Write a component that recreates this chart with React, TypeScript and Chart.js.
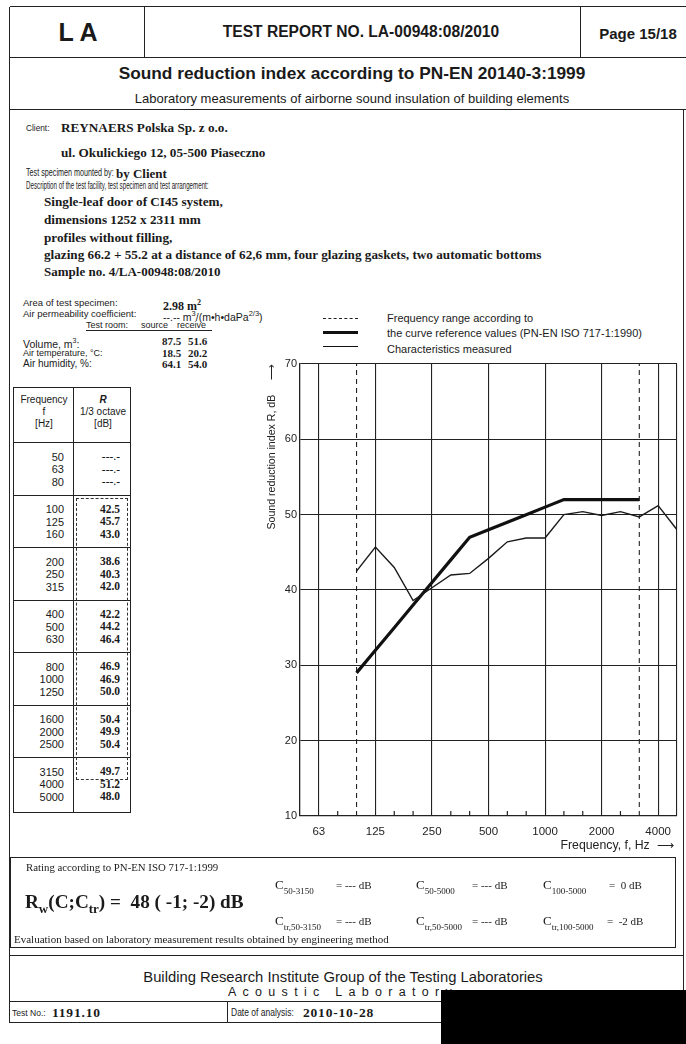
import React, { useEffect, useRef } from "react";
import { Chart, registerables } from "chart.js";

Chart.register(...registerables);

// ---------- data ----------
const bands = ["50","63","80","100","125","160","200","250","315","400","500","630","800","1000","1250","1600","2000","2500","3150","4000","5000"];
const tableR = ["---.-","---.-","---.-","42.5","45.7","43.0","38.6","40.3","42.0","42.2","44.2","46.4","46.9","46.9","50.0","50.4","49.9","50.4","49.7","51.2","48.0"];
const measuredBands = ["100","125","160","200","250","315","400","500","630","800","1000","1250","1600","2000","2500","3150","4000","5000"];
const measuredR = [42.5,45.7,43.0,38.6,40.3,42.0,42.2,44.2,46.4,46.9,46.9,50.0,50.4,49.9,50.4,49.7,51.2,48.0];
const referenceBands = ["100","125","160","200","250","315","400","500","630","800","1000","1250","1600","2000","2500","3150"];
const referenceR = [29,32,35,38,41,44,47,48,49,50,51,52,52,52,52,52];
const rangeBands = ["100","3150"];
const rangeY = [10,70];
const octaveLabels = ["63","125","250","500","1000","2000","4000"];
const minorBands = ["80","160","200","315","400","630","800","1250","1600","2500"];
const yTicks = [10,20,30,40,50,60,70];

const idx = (b: string) => bands.indexOf(b);

const SANS = '"Liberation Sans", Arial, sans-serif';
const SERIF = '"Liberation Serif", "Times New Roman", serif';
const INK = "#1a1a1a";

type TP = { x: number; y: number; s?: number; b?: boolean; serif?: boolean; i?: boolean; anchor?: "start" | "middle" | "end"; sx?: number; children?: any; style?: any };
const T = ({ x, y, s = 10, b = false, serif = false, i = false, anchor = "start", sx = 1, children, style = {} }: TP) => {
  const tr: string[] = [];
  if (anchor === "middle") tr.push("translateX(-50%)");
  if (anchor === "end") tr.push("translateX(-100%)");
  if (sx !== 1) tr.push(`scaleX(${sx})`);
  return (
    <div
      style={{
        position: "absolute",
        left: x,
        top: y - s / 2,
        fontSize: s,
        lineHeight: `${s}px`,
        fontFamily: serif ? SERIF : SANS,
        fontWeight: b ? 700 : 400,
        fontStyle: i ? "italic" : "normal",
        whiteSpace: "nowrap",
        color: INK,
        transform: tr.length ? tr.join(" ") : undefined,
        transformOrigin: "0 50%",
        ...style,
      }}
    >
      {children}
    </div>
  );
};

const H = ({ x1, x2, y, w = 1.2, dash = false, c = "#222" }: any) => (
  <div style={{ position: "absolute", left: x1, top: y - w / 2, width: x2 - x1, height: 0, borderTop: `${w}px ${dash ? "dashed" : "solid"} ${c}` }} />
);
const V = ({ x, y1, y2, w = 1.2, dash = false, c = "#222" }: any) => (
  <div style={{ position: "absolute", left: x - w / 2, top: y1, height: y2 - y1, width: 0, borderLeft: `${w}px ${dash ? "dashed" : "solid"} ${c}` }} />
);

const Sub = ({ children, s = 9 }: any) => (
  <span style={{ fontSize: s, position: "relative", top: 5 }}>{children}</span>
);

const minorTickPlugin = {
  id: "minorTicks",
  afterDatasetsDraw(chart: any) {
    const { ctx, chartArea, scales } = chart;
    const x = scales.x;
    ctx.save();
    ctx.strokeStyle = "#222";
    ctx.lineWidth = 1.2;
    minorBands.forEach((b) => {
      const px = x.getPixelForValue(idx(b));
      ctx.beginPath();
      ctx.moveTo(px, chartArea.bottom);
      ctx.lineTo(px, chartArea.bottom - 5);
      ctx.stroke();
    });
    ctx.restore();
  },
};

function SoundChart() {
  const ref = useRef<HTMLCanvasElement | null>(null);
  useEffect(() => {
    if (!ref.current) return;
    const chart = new Chart(ref.current, {
      type: "line",
      data: {
        datasets: [
          {
            label: "Characteristics measured",
            data: measuredBands.map((b, i) => ({ x: idx(b), y: measuredR[i] })),
            borderColor: "#1a1a1a",
            borderWidth: 1.4,
            pointRadius: 0,
            tension: 0,
          },
          {
            label: "the curve reference values (PN-EN ISO 717-1:1990)",
            data: referenceBands.map((b, i) => ({ x: idx(b), y: referenceR[i] })),
            borderColor: "#111",
            borderWidth: 3.2,
            pointRadius: 0,
            tension: 0,
          },
          ...rangeBands.map((b) => ({
            label: "Frequency range according to",
            data: rangeY.map((y) => ({ x: idx(b), y })),
            borderColor: "#222",
            borderWidth: 1.1,
            borderDash: [5, 4],
            pointRadius: 0,
          })),
        ],
      } as any,
      options: {
        responsive: false,
        animation: false,
        layout: { padding: { left: 0, top: 14, right: 8, bottom: 2 } },
        plugins: { legend: { display: false }, tooltip: { enabled: false } },
        scales: {
          x: {
            type: "linear",
            min: 0,
            max: bands.length - 1,
            afterBuildTicks: (s: any) => {
              s.ticks = bands.map((_, i) => ({ value: i }));
            },
            afterFit: (s: any) => {
              s.height = 44;
            },
            ticks: {
              autoSkip: false,
              maxRotation: 0,
              padding: 9,
              color: "#222",
              font: { family: SANS, size: 11.5 },
              callback: (v: any) => (octaveLabels.includes(bands[v]) ? bands[v] : ""),
            },
            grid: {
              drawTicks: false,
              lineWidth: 1.1,
              color: (ctx: any) => {
                const v = ctx.tick ? ctx.tick.value : -1;
                return octaveLabels.includes(bands[v]) || v === bands.length - 1 ? "#222" : "rgba(0,0,0,0)";
              },
            },
            border: { color: "#222", width: 1.3 },
            title: {
              display: true,
              text: "Frequency, f, Hz  \u27F6 ",
              align: "end",
              color: "#222",
              padding: { top: 0, bottom: 7.4 },
              font: { family: SANS, size: 12.3 },
            },
          },
          y: {
            min: 10,
            max: 70,
            afterBuildTicks: (s: any) => {
              s.ticks = yTicks.map((v) => ({ value: v }));
            },
            afterFit: (s: any) => {
              s.width = 42;
            },
            ticks: { padding: 3, color: "#222", font: { family: SANS, size: 11 } },
            grid: { drawTicks: false, color: "#222", lineWidth: 1.1 },
            border: { color: "#222", width: 1.3 },
            title: {
              display: true,
              text: "Sound reduction index R, dB     \u27F6",
              align: "end",
              color: "#222",
              padding: { top: 7.7, bottom: 0 },
              font: { family: SANS, size: 10.6 },
            },
          },
        },
      } as any,
      plugins: [minorTickPlugin],
    });
    return () => chart.destroy();
  }, []);
  return (
    <canvas
      ref={ref}
      width={428}
      height={512}
      style={{ position: "absolute", left: 258, top: 350, width: 428, height: 512 }}
    />
  );
}

export default function App() {
  const groupTop = 443;
  const groupH = 52.5;
  return (
    <div style={{ position: "absolute", left: 0, top: 0, width: 686, height: 1044, background: "#fff", overflow: "hidden", color: INK }}>
      {/* page frame */}
      <H x1={10} x2={686} y={7} />
      <V x={10} y1={7} y2={1023} />
      <V x={684} y1={110} y2={1023} />
      <V x={145} y1={7} y2={58} />
      <V x={581} y1={7} y2={58} />
      <H x1={10} x2={686} y={58} />
      <H x1={10} x2={686} y={110} />

      {/* header */}
      <T x={78} y={32} s={25} b anchor="middle">L A</T>
      <T x={361} y={32} s={15.6} b anchor="middle">TEST REPORT NO. LA-00948:08/2010</T>
      <T x={638} y={33} s={15} b anchor="middle">Page 15/18</T>
      <T x={352} y={74} s={17.3} b anchor="middle">Sound reduction index according to PN-EN 20140-3:1999</T>
      <T x={352} y={98} s={13} anchor="middle">Laboratory measurements of airborne sound insulation of building elements</T>

      {/* client */}
      <T x={26} y={128} s={9.5} sx={0.87}>Client:</T>
      <T x={61} y={128} s={13.2} b serif>REYNAERS Polska Sp. z o.o.</T>
      <T x={61} y={153} s={13.2} b serif>ul. Okulickiego 12, 05-500 Piaseczno</T>
      <T x={26} y={173} s={10} sx={0.72}>Test specimen mounted by:</T>
      <T x={116} y={173} s={13} b serif>by Client</T>
      <T x={26} y={186} s={10} sx={0.62}>Description of the test facility, test specimen and test arrangement:</T>
      <T x={44} y={202} s={13.2} b serif>Single-leaf door of CI45 system,</T>
      <T x={44} y={220} s={13.2} b serif>dimensions 1252 x 2311 mm</T>
      <T x={44} y={238} s={13.2} b serif>profiles without filling,</T>
      <T x={44} y={255} s={13.2} b serif>glazing 66.2 + 55.2 at a distance of 62,6 mm, four glazing gaskets, two automatic bottoms</T>
      <T x={44} y={271} s={13} b serif>Sample no. 4/LA-00948:08/2010</T>

      {/* specimen data */}
      <T x={23} y={303} s={9.5}>Area of test specimen:</T>
      <T x={163} y={303} s={12} b serif>2.98 m<sup style={{ fontSize: 8 }}>2</sup></T>
      <T x={23} y={314} s={9.5}>Air permeability coefficient:</T>
      <T x={163} y={314} s={10.5}>--.-- m<sup style={{ fontSize: 7.5 }}>3</sup>/(m•h•daPa<sup style={{ fontSize: 7.5 }}>2/3</sup>)</T>
      <T x={86} y={325} s={9}>Test room:</T>
      <T x={141} y={325} s={9}>source</T>
      <T x={177} y={325} s={9}>receive</T>
      <H x1={86} x2={212} y={330} w={0.9} />
      <T x={23} y={341} s={10.5}>Volume, m<sup style={{ fontSize: 7 }}>3</sup>:</T>
      <T x={162} y={341} s={11} b serif>87.5</T>
      <T x={188} y={341} s={11} b serif>51.6</T>
      <T x={23} y={353} s={9}>Air temperature, °C:</T>
      <T x={162} y={353} s={11} b serif>18.5</T>
      <T x={188} y={353} s={11} b serif>20.2</T>
      <T x={23} y={364} s={10}>Air humidity, %:</T>
      <T x={162} y={364} s={11} b serif>64.1</T>
      <T x={188} y={364} s={11} b serif>54.0</T>

      {/* table */}
      <div style={{ position: "absolute", left: 13, top: 387, width: 118, height: 426, border: "1.2px solid #222", boxSizing: "border-box" }} />
      <V x={74} y1={387} y2={813} />
      <T x={44} y={400} s={10} anchor="middle">Frequency</T>
      <T x={44} y={412} s={10} anchor="middle">f</T>
      <T x={44} y={424} s={10} anchor="middle">[Hz]</T>
      <T x={103} y={400} s={10} b i anchor="middle">R</T>
      <T x={103} y={412} s={10} anchor="middle">1/3 octave</T>
      <T x={103} y={424} s={10} anchor="middle">[dB]</T>
      {[0, 1, 2, 3, 4, 5, 6].map((g) => (
        <H key={"g" + g} x1={13} x2={131} y={groupTop + g * groupH} />
      ))}
      <div style={{ position: "absolute", left: 76, top: 498, width: 52, height: 282, border: "1px dashed #333", boxSizing: "border-box" }} />
      {bands.map((b, i) => {
        const g = Math.floor(i / 3);
        const r = i % 3;
        const y = groupTop + g * groupH + 14 + r * 12.6;
        return (
          <React.Fragment key={b}>
            <T x={64} y={y} s={11} anchor="end">{b}</T>
            <T x={120} y={y} s={11.5} b={i >= 3} serif anchor="end">{tableR[i]}</T>
          </React.Fragment>
        );
      })}

      {/* legend */}
      <H x1={323} x2={358} y={319} w={1.3} dash />
      <H x1={323} x2={358} y={333} w={3.5} c="#111" />
      <H x1={323} x2={358} y={347} w={1.6} c="#111" />
      <T x={387} y={318} s={11}>Frequency range according to</T>
      <T x={387} y={333} s={11}>the curve reference values (PN-EN ISO 717-1:1990)</T>
      <T x={387} y={349} s={11}>Characteristics measured</T>

      <SoundChart />

      {/* rating box */}
      <div style={{ position: "absolute", left: 10, top: 857, width: 666, height: 91, border: "1.2px solid #222", boxSizing: "border-box" }} />
      <H x1={10} x2={684} y={956} w={1.5} />
      <T x={26} y={867} s={10.8} serif>Rating according to PN-EN ISO 717-1:1999</T>
      <T x={25} y={902} s={19.2} b serif>
        R<span style={{ fontSize: 13, position: "relative", top: 5 }}>w</span>(C;C<span style={{ fontSize: 13, position: "relative", top: 5 }}>tr</span>) =&nbsp; 48 ( -1; -2) dB
      </T>
      <T x={275} y={884} s={13} serif>C<Sub>50-3150</Sub></T>
      <T x={336} y={885} s={11} serif>= --- dB</T>
      <T x={416} y={884} s={13} serif>C<Sub>50-5000</Sub></T>
      <T x={472} y={885} s={11} serif>= --- dB</T>
      <T x={543} y={884} s={13} serif>C<Sub>100-5000</Sub></T>
      <T x={609} y={885} s={11} serif>=&nbsp; 0 dB</T>
      <T x={275} y={920} s={13} serif>C<Sub>tr,50-3150</Sub></T>
      <T x={336} y={921} s={11} serif>= --- dB</T>
      <T x={416} y={920} s={13} serif>C<Sub>tr,50-5000</Sub></T>
      <T x={472} y={921} s={11} serif>= --- dB</T>
      <T x={543} y={920} s={13} serif>C<Sub>tr,100-5000</Sub></T>
      <T x={607} y={921} s={11} serif>=&nbsp; -2 dB</T>
      <T x={14} y={939} s={11} serif>Evaluation based on laboratory measurement results obtained by engineering method</T>

      {/* footer */}
      <T x={343} y={977} s={14.8} anchor="middle">Building Research Institute Group of the Testing Laboratories</T>
      <T x={343} y={992} s={12.5} anchor="middle" style={{ letterSpacing: 6.3 }}>Acoustic Laboratory</T>
      <H x1={10} x2={684} y={1002} />
      <V x={228} y1={1002} y2={1023} />
      <H x1={10} x2={684} y={1023} />
      <T x={12} y={1013} s={9.5} sx={0.9}>Test No.:</T>
      <T x={52} y={1013} s={13.5} b serif style={{ letterSpacing: 0.8 }}>1191.10</T>
      <T x={231} y={1013} s={10} sx={0.85}>Date of analysis:</T>
      <T x={303} y={1013} s={13.5} b serif style={{ letterSpacing: 0.8 }}>2010-10-28</T>
      <div style={{ position: "absolute", left: 441, top: 990, width: 245, height: 54, background: "#000" }} />
    </div>
  );
}
